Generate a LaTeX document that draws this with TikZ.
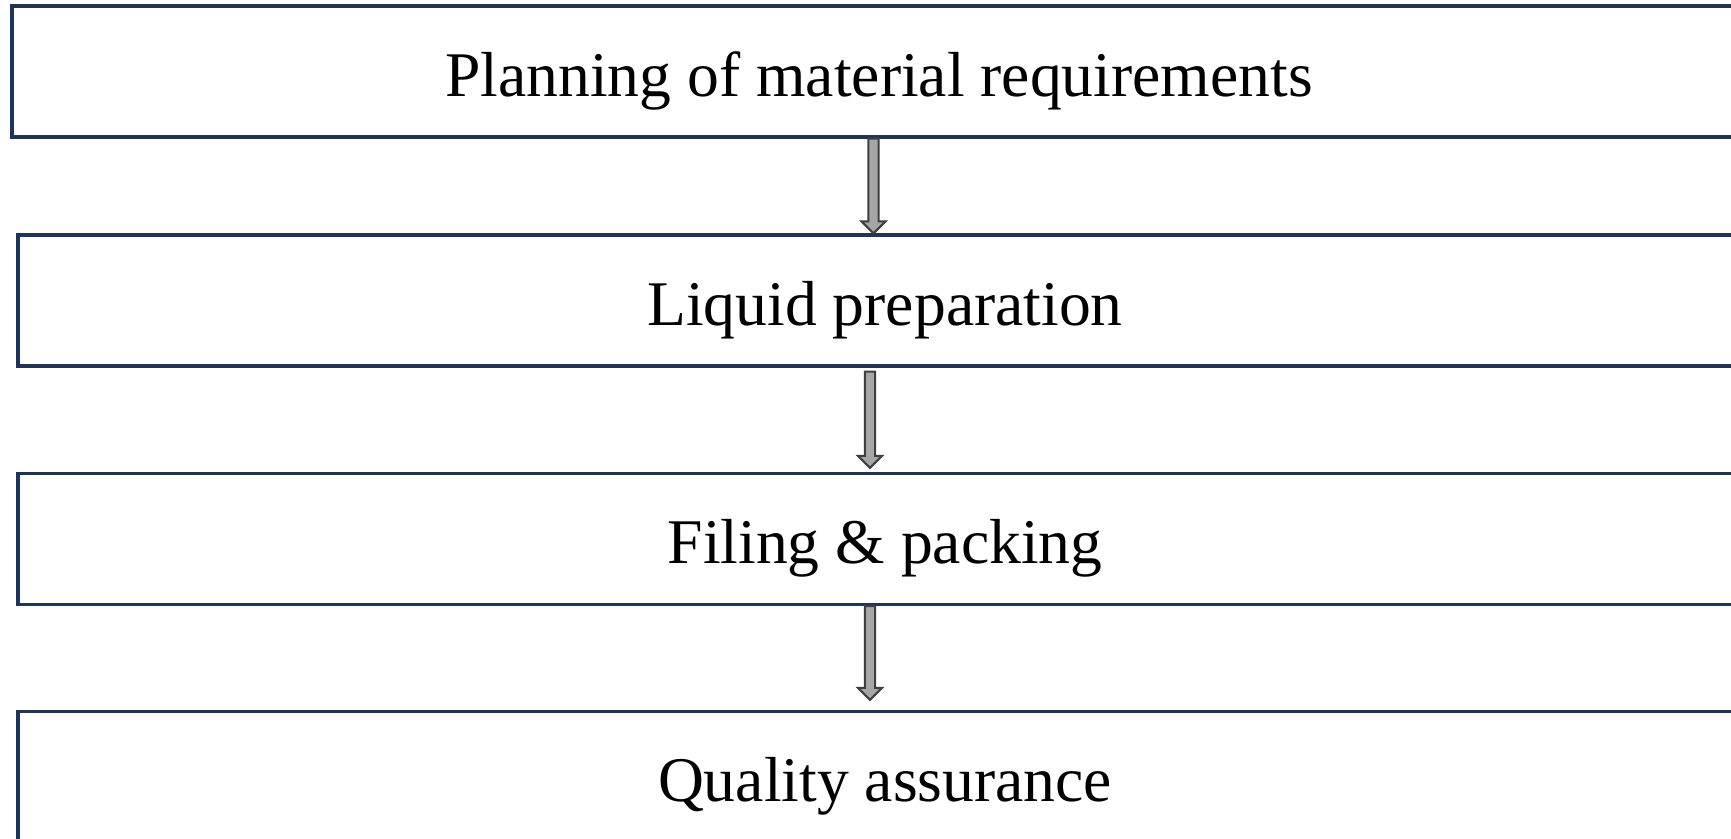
\documentclass[tikz,border=0pt]{standalone}
\usepackage{fontspec}
\setmainfont{Liberation Serif}
\usetikzlibrary{calc}

\definecolor{boxline}{HTML}{1F3457}
\definecolor{arrowfill}{HTML}{A6A6A6}
\definecolor{arrowline}{HTML}{3F3F3F}

\tikzset{
    stepbox/.style={draw=boxline, line width=1.9pt, inner sep=0pt,
        minimum width=34.68cm, minimum height=2.62cm,
        text height=0.98cm, text depth=0pt,
        font=\fontsize{36.2}{40}\selectfont},
    % block arrow: shaft from start, head tip at target
    flowarrow/.style={draw=arrowline, fill=arrowfill, line width=1.2pt,
        to path={let \p1=(\tikztostart), \p2=(\tikztotarget) in
            (\x1-2.9pt,\y1) -- (\x1-2.9pt,\y2+6.8pt) -- (\x1-6.8pt,\y2+6.8pt)
            -- (\x1,\y2) -- (\x1+6.8pt,\y2+6.8pt) -- (\x1+2.9pt,\y2+6.8pt)
            -- (\x1+2.9pt,\y1) -- cycle}}
}

\begin{document}
\begin{tikzpicture}
    \useasboundingbox (0,0) rectangle (34.62,-16.76);

    \draw
        (17.58, -1.43) node [stepbox] (plan) {Planning of material requirements}
        (17.70, -6.01) node [stepbox] (prep) {Liquid preparation}
        (17.70, -10.78) node [stepbox] (fill) {Filing \& packing}
        (17.70, -15.54) node [stepbox] (qa) {Quality assurance}
        ;

    \coordinate (planout) at ([xshift=-0.11cm]plan.south);
    \coordinate (prepin) at (planout |- prep.north);
    \coordinate (prepout) at ([xshift=-0.30cm, yshift=-0.08cm]prep.south);
    \coordinate (fillin) at ([xshift=-0.30cm, yshift=0.08cm]fill.north);
    \coordinate (fillout) at ([xshift=-0.30cm]fill.south);
    \coordinate (qain) at ([xshift=-0.30cm, yshift=0.2cm]qa.north);

    \draw
        (planout) edge [flowarrow] (prepin)
        (prepout) edge [flowarrow] (fillin)
        (fillout) edge [flowarrow] (qain)
        ;
\end{tikzpicture}
\end{document}
